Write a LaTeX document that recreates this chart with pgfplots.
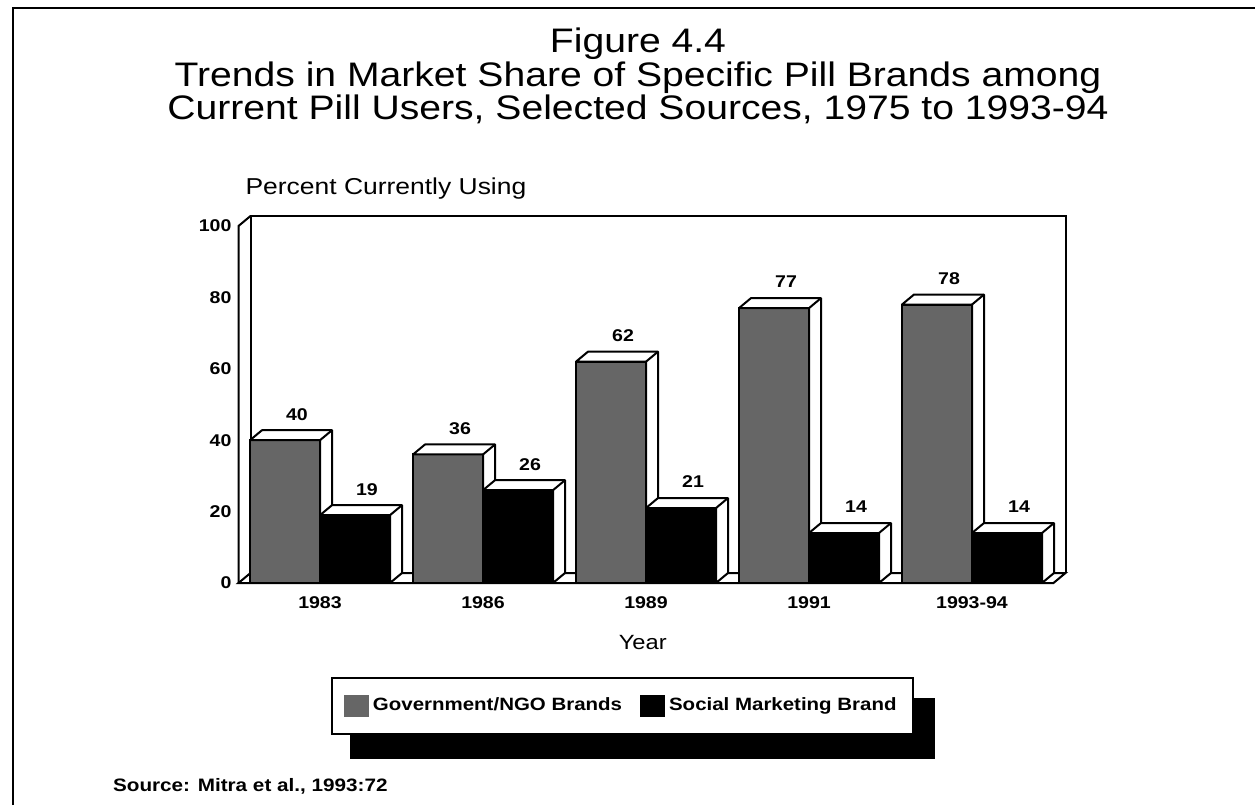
\documentclass[border=0pt]{standalone}
\usepackage{pgfplots}
\pgfplotsset{compat=1.18}
\usepackage{fontspec}
\setmainfont{Liberation Sans}[FakeStretch=1.15]
\pgfdeclareplotmark{nonemark}{}
\newcommand\fs[1]{\fontsize{#1}{#1}\selectfont}
\colorlet{govfill}{black!60}
\pgfplotsset{
  bar3d/.style n args={2}{
    scatter, only marks, mark=nonemark,
    visualization depends on={rawy \as \ry},
    scatter/@pre marker code/.code={%
      \pgfmathsetlengthmacro\bh{\ry*1.785pt}%
      \pgfmathtruncatemacro\rv{round(\ry)}%
      \pgfmathsetlengthmacro\xa{#1}%
      \pgfmathsetlengthmacro\xb{#1+35pt}%
      \pgfmathsetlengthmacro\xc{#1+23.5pt}%
      \fill[#2] (\xa,0pt) rectangle (\xb,-\bh);
      \draw[line width=1pt] (\xa,0pt) rectangle (\xb,-\bh);
      \filldraw[fill=white,line width=1pt,line join=round] (\xa,0pt) -- ++(6pt,5pt) -- ++(35pt,0pt) -- ++(0pt,-\bh) -- ++(-6pt,-5pt) -- (\xb,0pt) -- cycle;
      \draw[line width=1pt] (\xb,0pt) -- ++(6pt,5pt);
      \node[font=\bfseries\fs{8.5}] at (\xc,13pt) {\rv};
    },
    scatter/@post marker code/.code={},
  }
}
\begin{document}
\begin{tikzpicture}
\path[use as bounding box] (0pt,0pt) rectangle (627.5pt,402.5pt);
\draw[line width=1pt] (6.5pt,0pt) -- (6.5pt,398.5pt) -- (627.5pt,398.5pt);
\node[anchor=base,font=\fs{17}] at (319pt,376.2pt) {Figure 4.4};
\node[anchor=base,font=\fs{17}] at (319pt,359pt) {Trends in Market Share of Specific Pill Brands among};
\node[anchor=base,font=\fs{17}] at (319pt,342.5pt) {Current Pill Users, Selected Sources, 1975 to 1993-94};
\node[anchor=base west,font=\bfseries\fs{9}] at (53pt,7pt) {Source: Mitra et al., 1993:72};
% legend shadow
\fill[black] (175pt,23pt) rectangle (467.5pt,53.5pt);
\begin{axis}[
  at={(160pt,111pt)}, anchor=origin,
  x=81.5pt, y=1.785pt,
  xmin=-0.5, xmax=4.5, ymin=0, ymax=100,
  clip=false,
  axis line style={draw=none},
  major tick length=0pt,
  xtick={0,1,2,3,4},
  xticklabels={1983,1986,1989,1991,1993-94},
  ytick={0,20,40,60,80,100},
  /pgf/number format/assume math mode=true,
  ticklabel style={font=\bfseries\fs{8.5}},
  xticklabel style={yshift=-3.5pt},
  ylabel={Percent Currently Using},
  every axis y label/.style={at={(axis description cs:0,1.087)},anchor=base west,font=\fs{11.5}},
  xlabel={Year},
  every axis x label/.style={at={(axis description cs:0.496,-0.185)},anchor=base,font=\fs{10.3}},
  legend columns=2,
  legend style={at={(axis description cs:0.1135,-0.263)},anchor=north west,
    draw=black, line width=1pt, fill=white,
    font=\bfseries\fs{8.9},
    inner xsep=6pt, inner ysep=8pt,
    /tikz/every even column/.append style={column sep=7pt}},
]
\filldraw[fill=white,line width=1pt] (axis cs:-0.5,0) -- ([shift={(6pt,5pt)}]axis cs:-0.5,0) -- ([shift={(6pt,5pt)}]axis cs:4.5,0) -- (axis cs:4.5,0) -- cycle;
\draw[line width=1pt] ([shift={(6pt,5pt)}]axis cs:-0.5,0) -- ([shift={(6pt,5pt)}]axis cs:-0.5,100) -- ([shift={(6pt,5pt)}]axis cs:4.5,100) -- ([shift={(6pt,5pt)}]axis cs:4.5,0);
\draw[line width=1pt] (axis cs:-0.5,0) -- (axis cs:-0.5,100) -- ([shift={(6pt,5pt)}]axis cs:-0.5,100);
\addplot[bar3d={-35pt}{govfill}, legend image code/.code={\fill[govfill] (0pt,-5pt) rectangle (11.5pt,5pt);}]
  coordinates {(0,40) (1,36) (2,62) (3,77) (4,78)};
\addlegendentry{Government/NGO Brands}
\addplot[bar3d={0pt}{black}, legend image code/.code={\fill[black] (0pt,-5pt) rectangle (11.5pt,5pt);}]
  coordinates {(0,19) (1,26) (2,21) (3,14) (4,14)};
\addlegendentry{Social Marketing Brand}
\end{axis}
\end{tikzpicture}
\end{document}
